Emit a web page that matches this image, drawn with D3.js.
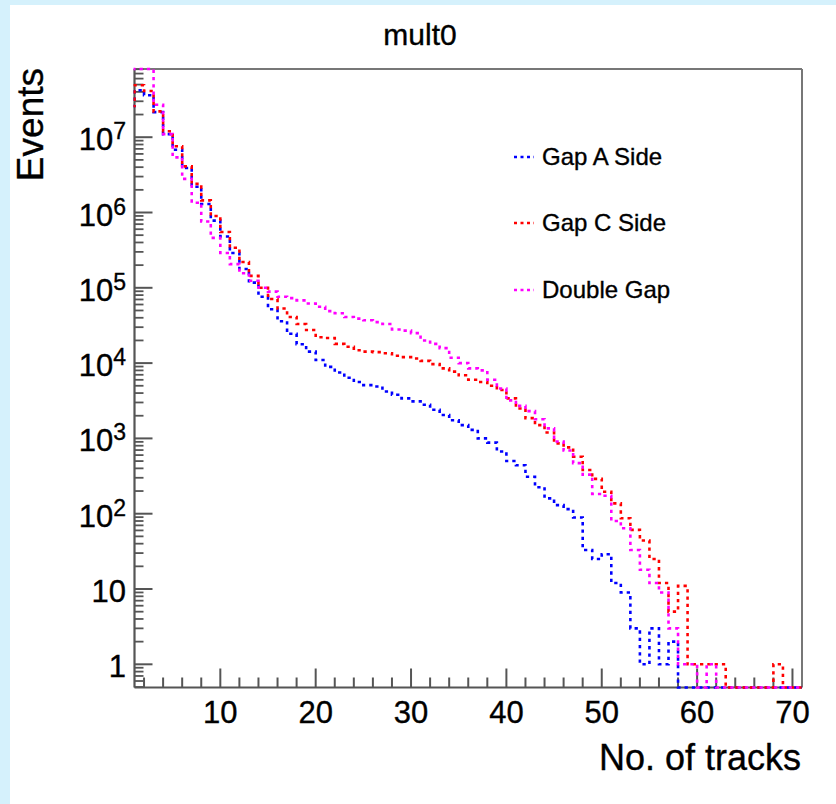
<!DOCTYPE html>
<html>
<head>
<meta charset="utf-8">
<script src="https://cdn.jsdelivr.net/npm/d3@7"></script>
<style>
html,body{margin:0;padding:0;background:#d5f1fc;}
svg{display:block;}
text{font-family:"Liberation Sans",Arial,Helvetica,sans-serif;fill:#000;stroke:#000;stroke-width:0.35px;}
</style>
</head>
<body>
<svg id="chart" width="836" height="804"></svg>
<script>
// ---- data (bin i covers [i, i+1]; first value = underflow bin [0,1]) ----
const title = "mult0";
const xTitle = "No. of tracks";
const yTitle = "Events";
const seriesNames = ["Gap A Side", "Gap C Side", "Double Gap"];
const seriesColors = ["#0000ff", "#ff0000", "#ff00ff"];

const gapA = [2.6e7,
  4.2e7, 3.6e7, 2.15e7, 1.1e7, 6.8e6, 3.9e6, 2.2e6, 1.3e6, 7.8e5, 4.8e5,
  2.9e5, 1.78e5, 1.17e5, 7.6e4, 5.2e4, 3.6e4, 2.45e4, 1.78e4, 1.42e4, 1.1e4,
  8.9e3, 7.5e3, 6.4e3, 5.6e3, 5.1e3, 4.9e3, 4.2e3, 3.8e3, 3.4e3, 3.1e3,
  2.8e3, 2.4e3, 2.05e3, 1.74e3, 1.5e3, 1.3e3, 1.0e3, 8.8e2, 6.7e2, 5.0e2,
  4.4e2, 3.1e2, 2.25e2, 1.6e2, 1.3e2, 1.15e2, 89, 33, 25, 29,
  12, 9, 3, 1, 3, 1, 2, 0, 0, 0,
  0, 0, 0, 0, 0, 0, 0, 0, 0, 0];

const gapC = [2.6e7,
  4.9e7, 4.1e7, 2.2e7, 1.2e7, 7.6e6, 4.1e6, 2.4e6, 1.45e6, 9.0e5, 5.5e5,
  3.4e5, 2.2e5, 1.44e5, 1.0e5, 7.1e4, 5.3e4, 4.1e4, 3.3e4, 2.75e4, 2.2e4,
  2.15e4, 1.8e4, 1.65e4, 1.48e4, 1.42e4, 1.4e4, 1.35e4, 1.25e4, 1.2e4, 1.15e4,
  1.07e4, 9.7e3, 8.5e3, 7.7e3, 6.9e3, 6.0e3, 5.6e3, 5.0e3, 4.4e3, 3.4e3,
  2.5e3, 1.86e3, 1.5e3, 1.2e3, 8.6e2, 7.6e2, 5.7e2, 3.8e2, 2.9e2, 1.96e2,
  1.37e2, 87, 61, 44, 25, 12, 5, 11, 1, 1,
  1, 1, 0, 0, 0, 0, 0, 1, 0, 0];

const doubleGap = [9e7,
  1.1e8, 9.5e7, 2.7e7, 1.1e7, 5.4e6, 2.8e6, 1.35e6, 7.6e5, 4.6e5, 2.9e5,
  2.06e5, 1.56e5, 1.24e5, 1.0e5, 8.9e4, 7.6e4, 7.3e4, 6.8e4, 6.2e4, 5.6e4,
  4.9e4, 4.6e4, 4.1e4, 3.9e4, 3.7e4, 3.5e4, 3.3e4, 2.8e4, 2.7e4, 2.5e4,
  2.0e4, 1.8e4, 1.58e4, 1.18e4, 1.0e4, 8.5e3, 8.0e3, 6.0e3, 4.6e3, 3.2e3,
  2.7e3, 2.3e3, 1.8e3, 1.36e3, 9.1e2, 6.9e2, 4.7e2, 3.3e2, 1.83e2, 1.73e2,
  80, 64, 33, 18, 12, 9, 3, 1, 1, 0,
  1, 0, 0, 0, 0, 0, 0, 0, 0, 0];

const xTickMajor = [10, 20, 30, 40, 50, 60, 70];
const yTickMajor = [1, 10, 1e2, 1e3, 1e4, 1e5, 1e6, 1e7];
const yTickLabels = [["1", ""], ["10", ""], ["10", "2"], ["10", "3"], ["10", "4"], ["10", "5"], ["10", "6"], ["10", "7"]];

// ---- layout ----
const svg = d3.select("#chart");
const frame = {left: 134.5, right: 802, top: 69, bottom: 687.5};

svg.append("rect").attr("x", 10).attr("y", 5).attr("width", 826).attr("height", 799).attr("fill", "#fff");

const x = d3.scaleLinear().domain([1, 71]).range([frame.left, frame.right]);
const y = d3.scaleLog().domain([0.492, 8.05e7]).range([frame.bottom, frame.top]).clamp(true);
const yv = v => v > 0 ? y(v) : frame.bottom;

const axisColor = "#555";

// frame top and right
svg.append("line").attr("x1", frame.left).attr("x2", frame.right).attr("y1", frame.top).attr("y2", frame.top)
  .attr("stroke", "#777").attr("stroke-width", 2);
svg.append("line").attr("x1", frame.right).attr("x2", frame.right).attr("y1", frame.top).attr("y2", frame.bottom)
  .attr("stroke", "#777").attr("stroke-width", 2);

// x axis
const xMinor = d3.range(2, 71, 2).filter(v => !xTickMajor.includes(v));
const gx = svg.append("g");
gx.append("line").attr("x1", frame.left).attr("x2", frame.right).attr("y1", frame.bottom).attr("y2", frame.bottom)
  .attr("stroke", axisColor).attr("stroke-width", 2.2);
gx.selectAll(".xmaj").data(xTickMajor).join("line")
  .attr("x1", d => x(d)).attr("x2", d => x(d)).attr("y1", frame.bottom).attr("y2", frame.bottom - 19)
  .attr("stroke", axisColor).attr("stroke-width", 2);
gx.selectAll(".xmin").data(xMinor).join("line")
  .attr("x1", d => x(d)).attr("x2", d => x(d)).attr("y1", frame.bottom).attr("y2", frame.bottom - 10)
  .attr("stroke", axisColor).attr("stroke-width", 2);
gx.selectAll("text").data(xTickMajor).join("text")
  .attr("x", d => x(d)).attr("y", 723).attr("text-anchor", "middle")
  .attr("font-size", 31).text(d => d);

// y axis
const gy = svg.append("g");
gy.append("line").attr("x1", frame.left).attr("x2", frame.left).attr("y1", frame.top).attr("y2", frame.bottom)
  .attr("stroke", axisColor).attr("stroke-width", 2.2);
const yMinor = [];
for (let e = -1; e <= 7; e++) {
  for (let m = 2; m <= 9; m++) {
    const v = m * Math.pow(10, e);
    if (v > y.domain()[0] && v < y.domain()[1]) yMinor.push(v);
  }
}
gy.selectAll(".ymaj").data(yTickMajor).join("line")
  .attr("x1", frame.left).attr("x2", frame.left + 18).attr("y1", d => y(d)).attr("y2", d => y(d))
  .attr("stroke", axisColor).attr("stroke-width", 2);
gy.selectAll(".ymin").data(yMinor).join("line")
  .attr("x1", frame.left).attr("x2", frame.left + 9).attr("y1", d => y(d)).attr("y2", d => y(d))
  .attr("stroke", axisColor).attr("stroke-width", 1.8);
const yl = gy.selectAll(".ylab").data(yTickMajor).join("text")
  .attr("x", 126).attr("y", d => y(d) + 13).attr("text-anchor", "end").attr("font-size", 31);
yl.each(function(d, i) {
  const t = d3.select(this);
  const lab = yTickLabels[i];
  t.append("tspan").text(lab[0]);
  if (lab[1]) t.append("tspan").attr("font-size", 23).attr("dy", -11).text(lab[1]);
});

// titles
svg.append("text").attr("x", 420).attr("y", 45).attr("text-anchor", "middle").attr("font-size", 30).text(title);
svg.append("text").attr("x", 801).attr("y", 770).attr("text-anchor", "end").attr("font-size", 36).text(xTitle);
svg.append("text").attr("transform", "translate(43,68) rotate(-90)").attr("text-anchor", "end")
  .attr("font-size", 37).text(yTitle);

// histograms
svg.append("clipPath").attr("id", "fclip").append("rect")
  .attr("x", frame.left - 1).attr("y", frame.top - 2).attr("width", frame.right - frame.left + 2).attr("height", frame.bottom - frame.top + 4);

const line = d3.line().x(d => x(d[0])).y(d => yv(d[1])).curve(d3.curveStepAfter);
const allSeries = [gapA, gapC, doubleGap];
allSeries.forEach((vals, si) => {
  const pts = vals.map((v, i) => [i, v]);
  pts.push([vals.length, vals[vals.length - 1]]);
  svg.append("path").attr("d", line(pts)).attr("clip-path", "url(#fclip)")
    .attr("fill", "none").attr("stroke", seriesColors[si]).attr("stroke-width", 2.6)
    .attr("stroke-dasharray", "3.3,4");
});

// legend
const legY = [157, 223, 290];
const leg = svg.append("g");
seriesNames.forEach((name, i) => {
  leg.append("line").attr("x1", 514).attr("x2", 534).attr("y1", legY[i]).attr("y2", legY[i])
    .attr("stroke", seriesColors[i]).attr("stroke-width", 2.4).attr("stroke-dasharray", "3,3.5");
  leg.append("text").attr("x", 542).attr("y", legY[i] + 8).attr("font-size", 24).text(name);
});
</script>
</body>
</html>
